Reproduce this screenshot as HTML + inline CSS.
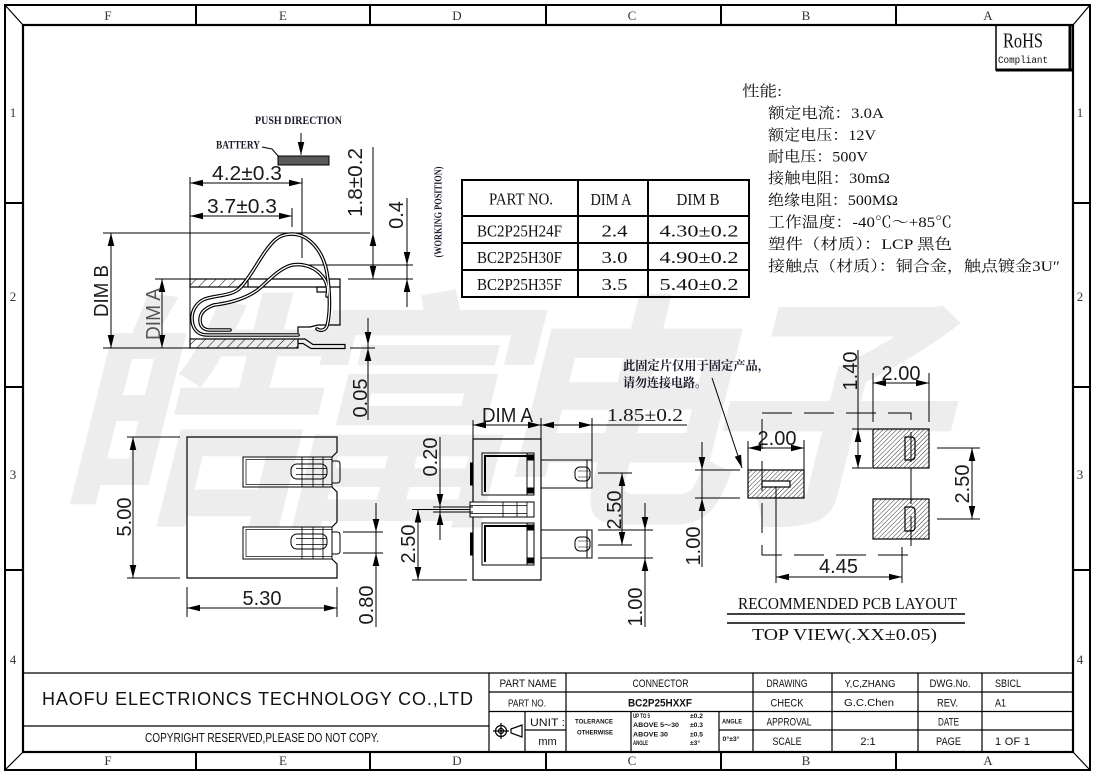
<!DOCTYPE html>
<html><head><meta charset="utf-8"><style>
html,body{margin:0;padding:0;background:#fff;}
svg{display:block;}
</style></head><body>
<svg width="1095" height="775" viewBox="0 0 1095 775" xmlns="http://www.w3.org/2000/svg" font-family="'Liberation Sans', sans-serif">
<defs>
<marker id="ar" markerUnits="userSpaceOnUse" markerWidth="14" markerHeight="8" refX="13" refY="4" orient="auto-start-reverse" overflow="visible"><path d="M0,0.7 L13,4 L0,7.3 Z" fill="#000"/></marker>
<pattern id="hp" patternUnits="userSpaceOnUse" width="3.2" height="3.2" patternTransform="rotate(45)"><line x1="0" y1="0" x2="0" y2="3.2" stroke="#000" stroke-width="0.8"/></pattern>
<pattern id="hh" patternUnits="userSpaceOnUse" width="7" height="7" patternTransform="rotate(45)"><line x1="0" y1="0" x2="0" y2="7" stroke="#000" stroke-width="1"/></pattern>
</defs>
<rect width="1095" height="775" fill="#fff"/>

<!-- WATERMARK (under) -->
<text x="78" y="505" font-family="'Noto Sans CJK SC', sans-serif" font-weight="bold" font-size="250" textLength="890" lengthAdjust="spacing" fill="#ededed" transform="translate(520,405) skewX(-14) translate(-520,-405)">皓富电子</text>

<!-- FRAME -->
<g stroke="#000" fill="none">
<rect x="5" y="5" width="1085" height="765" stroke-width="2"/>
<rect x="23" y="25" width="1050" height="727" stroke-width="2.2"/>
<path d="M5,5 L23,25 M1090,5 L1073,25 M5,770 L23,752 M1090,770 L1073,752" stroke-width="1.2"/>
<path d="M196,5V25 M370,5V25 M546,5V25 M721,5V25 M896,5V25 M196,752V770 M370,752V770 M546,752V770 M721,752V770 M896,752V770" stroke-width="2"/>
<path d="M5,203H23 M5,387H23 M5,570H23 M1073,203H1090 M1073,387H1090 M1073,570H1090" stroke-width="2"/>
</g>
<g font-family="'Liberation Serif', serif" font-size="13" fill="#333" text-anchor="middle">
<text x="108" y="20">F</text><text x="283" y="20">E</text><text x="457" y="20">D</text><text x="632" y="20">C</text><text x="806" y="20">B</text><text x="988" y="20">A</text>
<text x="108" y="765">F</text><text x="283" y="765">E</text><text x="457" y="765">D</text><text x="632" y="765">C</text><text x="806" y="765">B</text><text x="988" y="765">A</text>
<text x="13" y="117">1</text><text x="13" y="301">2</text><text x="13" y="479">3</text><text x="13" y="664">4</text>
<text x="1080" y="117">1</text><text x="1080" y="301">2</text><text x="1080" y="479">3</text><text x="1080" y="664">4</text>
</g>

<!-- ROHS -->
<rect x="996" y="25" width="77" height="45" fill="none" stroke="#000" stroke-width="1.5"/>
<path d="M996,70 H1073 M1070,25 V70" stroke="#000" stroke-width="3"/>
<text x="1003" y="47.5" font-family="'Liberation Serif', serif" font-size="21" textLength="40" lengthAdjust="spacingAndGlyphs" fill="#111">RoHS</text>
<text x="998" y="63" font-family="'Liberation Mono', monospace" font-size="10" textLength="50" lengthAdjust="spacingAndGlyphs" fill="#111">Compliant</text>

<!-- SPECS -->
<g font-family="'Liberation Serif','Noto Serif CJK SC', serif" font-size="15" fill="#111">
<text x="742" y="96" textLength="40" lengthAdjust="spacingAndGlyphs">性能:</text>
<text x="768" y="118" textLength="116" lengthAdjust="spacingAndGlyphs">额定电流：3.0A</text>
<text x="768" y="140" textLength="108" lengthAdjust="spacingAndGlyphs">额定电压：12V</text>
<text x="768" y="161.5" textLength="100" lengthAdjust="spacingAndGlyphs">耐电压：500V</text>
<text x="768" y="183" textLength="122" lengthAdjust="spacingAndGlyphs">接触电阻：30mΩ</text>
<text x="768" y="205" textLength="130" lengthAdjust="spacingAndGlyphs">绝缘电阻：500MΩ</text>
<text x="768" y="227" textLength="184" lengthAdjust="spacingAndGlyphs">工作温度：-40℃～+85℃</text>
<text x="768" y="249" textLength="184" lengthAdjust="spacingAndGlyphs">塑件（材质）：LCP 黑色</text>
<text x="768" y="271" textLength="292" lengthAdjust="spacingAndGlyphs">接触点（材质）：铜合金，触点镀金3U″</text>
</g>

<!-- TABLE -->
<g stroke="#000" fill="none" stroke-width="2">
<rect x="462" y="180" width="287" height="117"/>
<path d="M462,216H749 M462,243H749 M462,270H749 M578,180V297 M648,180V297"/>
</g>
<g font-family="'Liberation Serif', serif" font-size="17" fill="#111" text-anchor="middle">
<text x="521" y="204.5" textLength="64" lengthAdjust="spacingAndGlyphs">PART NO.</text>
<text x="611" y="205" textLength="41" lengthAdjust="spacingAndGlyphs">DIM A</text>
<text x="698" y="205" textLength="43" lengthAdjust="spacingAndGlyphs">DIM B</text>
<text x="519.5" y="236.5" textLength="85" lengthAdjust="spacingAndGlyphs">BC2P25H24F</text>
<text x="519.5" y="263" textLength="85" lengthAdjust="spacingAndGlyphs">BC2P25H30F</text>
<text x="519.5" y="290" textLength="85" lengthAdjust="spacingAndGlyphs">BC2P25H35F</text>
<text x="614.5" y="236.5" textLength="26" lengthAdjust="spacingAndGlyphs">2.4</text>
<text x="614.5" y="263" textLength="26" lengthAdjust="spacingAndGlyphs">3.0</text>
<text x="614.5" y="290" textLength="26" lengthAdjust="spacingAndGlyphs">3.5</text>
<text x="699" y="236.5" textLength="79" lengthAdjust="spacingAndGlyphs">4.30±0.2</text>
<text x="699" y="263" textLength="79" lengthAdjust="spacingAndGlyphs">4.90±0.2</text>
<text x="699" y="290" textLength="79" lengthAdjust="spacingAndGlyphs">5.40±0.2</text>
</g>

<!-- SIDE VIEW -->
<g font-family="'Liberation Serif', serif" font-weight="bold" fill="#1a1a2a">
<text x="255" y="124" font-size="12" textLength="87" lengthAdjust="spacingAndGlyphs">PUSH DIRECTION</text>
<text x="216" y="148.5" font-size="12" textLength="44" lengthAdjust="spacingAndGlyphs">BATTERY</text>
<text transform="translate(441.5,212) rotate(-90)" text-anchor="middle" font-size="11" textLength="91" lengthAdjust="spacingAndGlyphs">(WORKING POSITION)</text>
</g>
<rect x="278" y="156" width="51" height="9" fill="#5a5a5a" stroke="#000" stroke-width="1"/>
<g stroke="#000" fill="none" stroke-width="1">
<path d="M262,147 L272,149 L279,157"/>
<line x1="301" y1="133" x2="301" y2="155" marker-end="url(#ar)"/>
<path d="M190,177V348 M302,178V258 M292,208V227 M103,233H370 M103,348H190 M155,279H190 M348,279H413 M303,265H413 M350,348H375"/>
<line x1="190" y1="183" x2="302" y2="183" marker-start="url(#ar)" marker-end="url(#ar)"/>
<line x1="190" y1="216" x2="292" y2="216" marker-start="url(#ar)" marker-end="url(#ar)"/>
<line x1="111" y1="233" x2="111" y2="348" marker-start="url(#ar)" marker-end="url(#ar)"/>
<line x1="162" y1="279" x2="162" y2="348" marker-start="url(#ar)" marker-end="url(#ar)"/>
<path d="M373,147V279 M407,198V307 M368,318V420"/>
<line x1="373" y1="246" x2="373" y2="233" marker-end="url(#ar)"/>
<line x1="373" y1="266" x2="373" y2="279" marker-end="url(#ar)"/>
<line x1="407" y1="252" x2="407" y2="265" marker-end="url(#ar)"/>
<line x1="407" y1="292" x2="407" y2="279" marker-end="url(#ar)"/>
<line x1="368" y1="332" x2="368" y2="345" marker-end="url(#ar)"/>
<line x1="368" y1="361" x2="368" y2="348" marker-end="url(#ar)"/>
</g>
<rect x="190" y="279" width="58" height="8" fill="url(#hh)" stroke="#000" stroke-width="1.2"/>
<rect x="190" y="339" width="108" height="9" fill="url(#hh)" stroke="#000" stroke-width="1.2"/>
<g stroke="#000" fill="none" stroke-width="1.2">
<path d="M248,279H340V325H318 L310,327H298V333 M248,287H340"/>
<rect x="317" y="287" width="11" height="5"/>
<path d="M298,339 H305 L313,344.5 H345 V348.5 H311 L303,343.5 H298"/>
</g>
<g fill="none" stroke-linecap="round" stroke-linejoin="round">
<g stroke="#000" stroke-width="3.6">
<path d="M205,299 C217,295 232,296 240,288 C252,276 262,252 275,240 C283,233 296,232 306,238 C318,246 326,260 328,280 C330,298 330,315 327,326 C325,331 320,331 317,329"/>
<path d="M214,305 C230,303 248,298 260,288 C270,279 280,268 292,265 C305,263 318,268 325,280 C328,286 328,292 327,296"/>
<path d="M205,299 C197,302 192,310 192,318 C192,328 197,335 207,335 L298,335"/>
<path d="M214,305 C205,308 200,313 200,320 C200,327 204,330 210,330 L230,330"/>
</g>
<g stroke="#fff" stroke-width="1.3">
<path d="M205,299 C217,295 232,296 240,288 C252,276 262,252 275,240 C283,233 296,232 306,238 C318,246 326,260 328,280 C330,298 330,315 327,326 C325,331 320,331 317,329"/>
<path d="M214,305 C230,303 248,298 260,288 C270,279 280,268 292,265 C305,263 318,268 325,280 C328,286 328,292 327,296"/>
<path d="M205,299 C197,302 192,310 192,318 C192,328 197,335 207,335 L298,335"/>
<path d="M214,305 C205,308 200,313 200,320 C200,327 204,330 210,330 L230,330"/>
</g>
</g>
<g font-size="20" fill="#1a1a1a" text-anchor="middle">
<text x="247" y="180" textLength="70" lengthAdjust="spacingAndGlyphs">4.2±0.3</text>
<text x="242" y="213" textLength="70" lengthAdjust="spacingAndGlyphs">3.7±0.3</text>
<text transform="translate(108,291) rotate(-90)" textLength="52" lengthAdjust="spacingAndGlyphs">DIM B</text>
<text transform="translate(160,314) rotate(-90)" textLength="52" lengthAdjust="spacingAndGlyphs" fill="#555">DIM A</text>
<text transform="translate(362,182.5) rotate(-90)" textLength="69" lengthAdjust="spacingAndGlyphs">1.8±0.2</text>
<text transform="translate(403,215) rotate(-90)">0.4</text>
<text transform="translate(367,398) rotate(-90)">0.05</text>
</g>

<!-- FRONT VIEW -->
<g stroke="#000" fill="none" stroke-width="1">
<path d="M332,457 L337,452 V437 H187 V578 H337 V564 L332,559 M332,487 L337,492 V522 L332,527" stroke-width="1.2"/>
<rect x="243" y="457" width="89" height="30"/>
<rect x="246" y="459.5" width="86" height="25" stroke-width="0.7"/>
<path d="M302,457V487 M313,457V487 M323,457V487" stroke-width="0.8"/>
<rect x="291" y="464" width="36" height="15" rx="6"/>
<path d="M296,468.5H327 M296,474.5H327" stroke-width="0.7"/>
<path d="M332,461 H337 Q340,461 340,464 V480 Q340,483 337,483 H332"/>
<rect x="243" y="527" width="89" height="32"/>
<rect x="246" y="529.5" width="86" height="27" stroke-width="0.7"/>
<path d="M302,527V559 M313,527V559 M323,527V559" stroke-width="0.8"/>
<rect x="291" y="534" width="36" height="15" rx="6"/>
<path d="M296,538.5H327 M296,544.5H327" stroke-width="0.7"/>
<path d="M332,532 H337 Q340,532 340,535 V551 Q340,554 337,554 H332"/>
<path d="M127,437H180 M127,578H180 M187,587V617 M337,587V617 M343,532H383 M343,553H383 M376,503V627"/>
<line x1="133" y1="437" x2="133" y2="578" marker-start="url(#ar)" marker-end="url(#ar)"/>
<line x1="187" y1="608" x2="337" y2="608" marker-start="url(#ar)" marker-end="url(#ar)"/>
<line x1="376" y1="519" x2="376" y2="532" marker-end="url(#ar)"/>
<line x1="376" y1="566" x2="376" y2="553" marker-end="url(#ar)"/>
</g>
<g font-size="20" fill="#1a1a1a" text-anchor="middle">
<text transform="translate(131,517) rotate(-90)">5.00</text>
<text x="262" y="605">5.30</text>
<text transform="translate(373,605) rotate(-90)">0.80</text>
</g>

<!-- MIDDLE VIEW -->
<g stroke="#000" fill="none" stroke-width="1">
<rect x="473" y="439" width="68" height="141" stroke-width="1.2"/>
<rect x="482" y="453" width="52" height="42"/>
<path d="M485,492 V456 H527" stroke-width="2"/>
<rect x="527" y="453" width="7" height="42"/>
<rect x="527.5" y="455" width="6" height="5" fill="#000"/>
<rect x="527.5" y="488" width="6" height="5" fill="#000"/>
<rect x="482" y="523" width="52" height="42"/>
<path d="M485,562 V526 H527" stroke-width="2"/>
<rect x="527" y="523" width="7" height="42"/>
<rect x="527.5" y="525" width="6" height="5" fill="#000"/>
<rect x="527.5" y="558" width="6" height="5" fill="#000"/>
<rect x="470" y="502" width="64" height="15" fill="#fff"/>
<path d="M470,505.5H527 M470,513.5H527 M503,502V517 M517,502V517 M527,502V517" stroke-width="0.8"/>
<rect x="470.5" y="463" width="2.5" height="22" fill="#000"/>
<rect x="470.5" y="533" width="2.5" height="22" fill="#000"/>
<path d="M541,460H592V488H541 M587,460V488 M541,530H592V558H541 M587,530V558"/>
<rect x="575" y="467" width="15" height="14" rx="5"/>
<path d="M578,471H590 M578,477H590" stroke-width="0.6"/>
<rect x="575" y="537" width="15" height="14" rx="5"/>
<path d="M578,541H590 M578,547H590" stroke-width="0.6"/>
<path d="M473,420V439 M541,418V460 M592,418V460 M541,425H687"/>
<line x1="473" y1="425" x2="541" y2="425" marker-start="url(#ar)" marker-end="url(#ar)"/>
<line x1="554" y1="425" x2="541" y2="425" marker-end="url(#ar)"/>
<line x1="579" y1="425" x2="592" y2="425" marker-end="url(#ar)"/>
<path d="M440,437V540 M433,507H473 M433,512H473 M412,509.5H470 M412,580H467"/>
<line x1="440" y1="494" x2="440" y2="507" marker-end="url(#ar)"/>
<line x1="440" y1="525" x2="440" y2="512" marker-end="url(#ar)"/>
<line x1="418" y1="509.5" x2="418" y2="580" marker-start="url(#ar)" marker-end="url(#ar)"/>
<path d="M622,473V545 M598,473H632 M598,545H632 M645,503V627 M598,530H653 M598,558H653"/>
<line x1="622" y1="486" x2="622" y2="473" marker-end="url(#ar)"/>
<line x1="622" y1="532" x2="622" y2="545" marker-end="url(#ar)"/>
<line x1="645" y1="517" x2="645" y2="530" marker-end="url(#ar)"/>
<line x1="645" y1="571" x2="645" y2="558" marker-end="url(#ar)"/>
</g>
<g font-size="20" fill="#1a1a1a" text-anchor="middle">
<text x="507.5" y="422" textLength="51" lengthAdjust="spacingAndGlyphs">DIM A</text>
<text x="645" y="421" font-family="'Liberation Serif', serif" font-size="18" textLength="76" lengthAdjust="spacingAndGlyphs">1.85±0.2</text>
<text transform="translate(437,457) rotate(-90)">0.20</text>
<text transform="translate(415,544) rotate(-90)">2.50</text>
<text transform="translate(621,510) rotate(-90)">2.50</text>
<text transform="translate(642,607) rotate(-90)">1.00</text>
</g>

<!-- PCB LAYOUT -->
<g font-family="'Liberation Serif','Noto Serif CJK SC', serif" font-size="12.5" font-weight="bold" fill="#1a1a2a">
<text x="623" y="370" textLength="147" lengthAdjust="spacingAndGlyphs">此固定片仅用于固定产品，</text>
<text x="623" y="387" textLength="84" lengthAdjust="spacingAndGlyphs">请勿连接电路。</text>
</g>
<rect x="762" y="413" width="149" height="142" fill="none" stroke="#000" stroke-width="1" stroke-dasharray="30 12"/>
<g stroke="#000" stroke-width="1.2">
<rect x="748" y="470" width="56" height="28" fill="url(#hp)"/>
<rect x="762" y="481" width="28" height="6" fill="#fff"/>
<rect x="873" y="429" width="56" height="39" fill="url(#hp)"/>
<rect x="873" y="499" width="56" height="40" fill="url(#hp)"/>
<path d="M905,437 H911 Q915,437 915,441 V456 Q915,460 911,460 H905 Z M905,507 H911 Q915,507 915,511 V527 Q915,531 911,531 H905 Z" fill="none"/>
</g>
<g stroke="#000" fill="none" stroke-width="1">
<path d="M911,468V499"/>
<line x1="712" y1="378" x2="742" y2="468" marker-end="url(#ar)"/>
<path d="M873,373V422 M929,373V422"/>
<line x1="873" y1="383" x2="929" y2="383" marker-start="url(#ar)" marker-end="url(#ar)"/>
<path d="M858,350V468 M852,429H872 M852,468H872"/>
<line x1="858" y1="442" x2="858" y2="429" marker-end="url(#ar)"/>
<line x1="858" y1="455" x2="858" y2="468" marker-end="url(#ar)"/>
<path d="M748,441V470 M804,440V470"/>
<line x1="748" y1="448" x2="804" y2="448" marker-start="url(#ar)" marker-end="url(#ar)"/>
<path d="M702,442V567 M695,470H740 M695,498H740"/>
<line x1="702" y1="457" x2="702" y2="470" marker-end="url(#ar)"/>
<line x1="702" y1="511" x2="702" y2="498" marker-end="url(#ar)"/>
<path d="M937,448H980 M937,519H980"/>
<line x1="972" y1="448" x2="972" y2="519" marker-start="url(#ar)" marker-end="url(#ar)"/>
<path d="M776,487V583 M902,547V583"/>
<line x1="776" y1="577" x2="902" y2="577" marker-start="url(#ar)" marker-end="url(#ar)"/>
<path d="M727,614H965 M727,623H965" stroke-width="1.4"/>
</g>
<g font-size="20" fill="#1a1a1a" text-anchor="middle">
<text x="901" y="380">2.00</text>
<text transform="translate(857,371) rotate(-90)">1.40</text>
<text x="777" y="445">2.00</text>
<text transform="translate(700,546) rotate(-90)">1.00</text>
<text transform="translate(969,484) rotate(-90)">2.50</text>
<text x="838.5" y="573">4.45</text>
</g>
<g font-family="'Liberation Serif', serif" font-size="17" fill="#111">
<text x="738" y="609" textLength="219" lengthAdjust="spacingAndGlyphs">RECOMMENDED PCB LAYOUT</text>
<text x="752" y="640" textLength="185" lengthAdjust="spacingAndGlyphs">TOP VIEW(.XX±0.05)</text>
</g>

<!-- TITLE BLOCK -->
<g stroke="#000" fill="none" stroke-width="1.2">
<path d="M23,673H1073 M23,726H489 M489,673V752 M489,692H1073 M489,711.5H1073 M525,730H566 M719,730H1073 M566,673V752 M525,711.5V752 M631,711.5V752 M719,711.5V752 M753,673V752 M832,673V752 M918,673V752 M982,673V752"/>
<circle cx="501" cy="731" r="5.5"/><circle cx="501" cy="731" r="2.5"/>
<path d="M493,731H509 M501,723V739 M511,729 L522,725 V737 L511,733 Z"/>
</g>
<text x="42" y="705" font-size="18" textLength="431" lengthAdjust="spacing" fill="#111">HAOFU ELECTRIONCS TECHNOLOGY CO.,LTD</text>
<text x="145" y="742" font-size="12.5" textLength="234" lengthAdjust="spacingAndGlyphs" fill="#111">COPYRIGHT RESERVED,PLEASE DO NOT COPY.</text>
<g font-size="11" fill="#111" text-anchor="middle">
<text x="528" y="687" textLength="57" lengthAdjust="spacingAndGlyphs">PART NAME</text>
<text x="527" y="706.5" font-size="10" textLength="38" lengthAdjust="spacingAndGlyphs">PART NO.</text>
<text x="547.5" y="726" textLength="35" lengthAdjust="spacingAndGlyphs">UNIT :</text>
<text x="547.5" y="745">mm</text>
<text x="660.5" y="687" textLength="56" lengthAdjust="spacingAndGlyphs">CONNECTOR</text>
<text x="660" y="706.5" font-weight="bold" textLength="64" lengthAdjust="spacingAndGlyphs">BC2P25HXXF</text>
<text x="787" y="687" textLength="41" lengthAdjust="spacingAndGlyphs">DRAWING</text>
<text x="787" y="706.5" textLength="33" lengthAdjust="spacingAndGlyphs">CHECK</text>
<text x="789" y="725.5" textLength="45" lengthAdjust="spacingAndGlyphs">APPROVAL</text>
<text x="787" y="745" textLength="29" lengthAdjust="spacingAndGlyphs">SCALE</text>
<text x="870" y="687" font-size="10" textLength="51" lengthAdjust="spacingAndGlyphs">Y,C,ZHANG</text>
<text x="869" y="706" font-size="10" textLength="50" lengthAdjust="spacingAndGlyphs">G.C.Chen</text>
<text x="868" y="745">2:1</text>
<text x="950" y="687" textLength="41" lengthAdjust="spacingAndGlyphs">DWG.No.</text>
<text x="947.5" y="706.5" textLength="21" lengthAdjust="spacingAndGlyphs">REV.</text>
<text x="948.5" y="725.5" textLength="21" lengthAdjust="spacingAndGlyphs">DATE</text>
<text x="948.5" y="745" textLength="25" lengthAdjust="spacingAndGlyphs">PAGE</text>
</g>
<g font-size="11" fill="#111">
<text x="995" y="687" textLength="26" lengthAdjust="spacingAndGlyphs">SBICL</text>
<text x="995" y="706.5" textLength="11" lengthAdjust="spacingAndGlyphs">A1</text>
<text x="995" y="745" textLength="35" lengthAdjust="spacing">1 OF 1</text>
</g>
<g font-size="6.5" font-weight="bold" fill="#111">
<text x="575" y="723.5" textLength="38" lengthAdjust="spacingAndGlyphs">TOLERANCE</text>
<text x="577" y="734.5" textLength="36" lengthAdjust="spacingAndGlyphs">OTHERWISE</text>
<text x="633" y="718" textLength="17" lengthAdjust="spacingAndGlyphs">UP TO 5</text>
<text x="633" y="727" textLength="46" lengthAdjust="spacingAndGlyphs">ABOVE 5～30</text>
<text x="633" y="736.5" textLength="35" lengthAdjust="spacingAndGlyphs">ABOVE 30</text>
<text x="633" y="745" textLength="15" lengthAdjust="spacingAndGlyphs">ANGLE</text>
<text x="690" y="718" textLength="13" lengthAdjust="spacingAndGlyphs">±0.2</text>
<text x="690" y="727" textLength="13" lengthAdjust="spacingAndGlyphs">±0.3</text>
<text x="690" y="736.5" textLength="13" lengthAdjust="spacingAndGlyphs">±0.5</text>
<text x="690" y="745" textLength="10" lengthAdjust="spacingAndGlyphs">±3°</text>
<text x="722" y="723.5" textLength="20" lengthAdjust="spacingAndGlyphs">ANGLE</text>
<text x="722.5" y="741" textLength="17" lengthAdjust="spacingAndGlyphs">0°±3°</text>
</g>
</svg>
</body></html>
